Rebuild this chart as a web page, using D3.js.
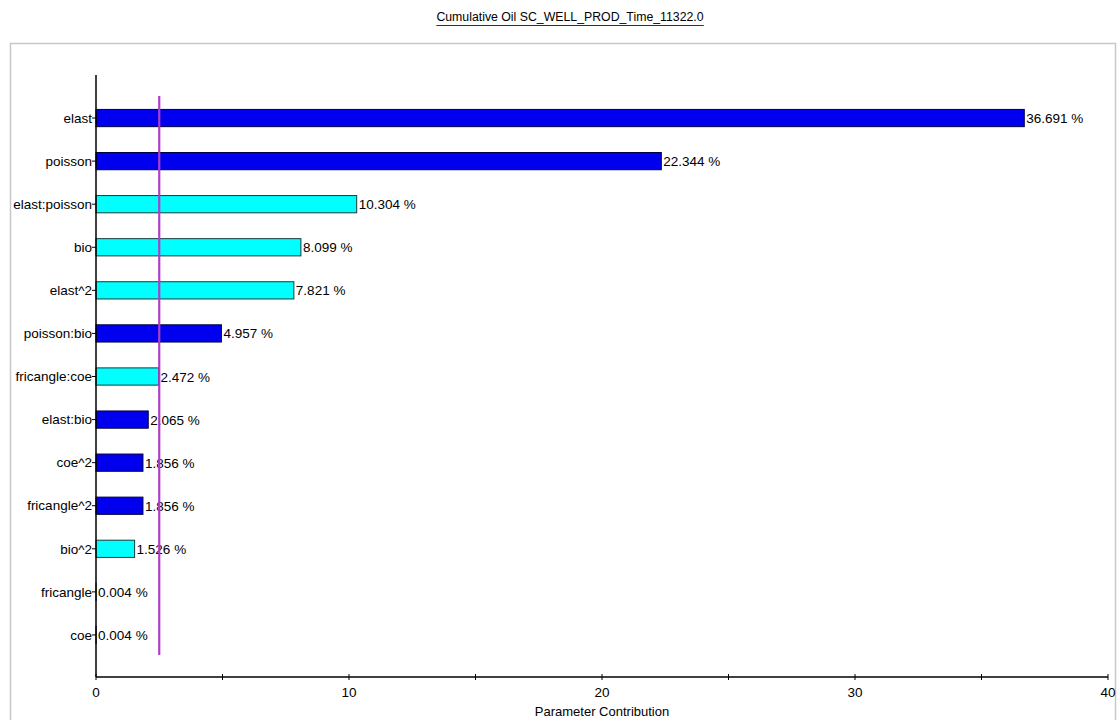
<!DOCTYPE html>
<html>
<head>
<meta charset="utf-8">
<script src="https://cdn.jsdelivr.net/npm/d3@7"></script>
<style>
  html, body { margin: 0; padding: 0; background: #fff; }
  svg { display: block; font-family: "Liberation Sans", Arial, sans-serif; }
</style>
</head>
<body>
<svg id="chart" width="1117" height="720"></svg>
<script>
// Parameter contributions (percent) to cumulative oil, sorted descending
const parameters = ["elast", "poisson", "elast:poisson", "bio", "elast^2", "poisson:bio",
  "fricangle:coe", "elast:bio", "coe^2", "fricangle^2", "bio^2", "fricangle", "coe"];
const contributions = [36.691, 22.344, 10.304, 8.099, 7.821, 4.957,
  2.472, 2.065, 1.856, 1.856, 1.526, 0.004, 0.004];
// Sign of each effect: true = positive (cyan), false = negative (blue)
const positiveEffect = [false, false, true, true, true, false,
  true, false, false, false, true, true, false];
const xTicks = [0, 5, 10, 15, 20, 25, 30, 35, 40];
const xTickLabels = [0, 10, 20, 30, 40];
const significanceLevel = 2.5;
const titleText = "Cumulative Oil SC_WELL_PROD_Time_11322.0";
const xAxisTitle = "Parameter Contribution";

const svg = d3.select("#chart");

// Plot frame
svg.append("rect")
  .attr("x", 10.5).attr("y", 43.5)
  .attr("width", 1105).attr("height", 700)
  .attr("fill", "none").attr("stroke", "#c8c8c8").attr("stroke-width", 1.5);

// Title, underlined
const title = svg.append("text")
  .attr("x", 570).attr("y", 21)
  .attr("text-anchor", "middle")
  .attr("font-size", 12.3)
  .attr("fill", "#000")
  .text(titleText);
const tb = title.node().getBBox();
svg.append("line")
  .attr("x1", tb.x).attr("x2", tb.x + tb.width)
  .attr("y1", 25.5).attr("y2", 25.5)
  .attr("stroke", "#333").attr("stroke-width", 1);

const x = d3.scaleLinear().domain([0, 40]).range([96, 1108]);
const y = d3.scaleBand().domain(parameters)
  .range([96.5, 656.5]).paddingInner(0.6).paddingOuter(0.3);

const axisY = 677;
const labelSize = 13.5;

// Bars
svg.append("g").selectAll("rect")
  .data(parameters)
  .join("rect")
  .attr("x", x(0))
  .attr("y", d => y(d))
  .attr("width", (d, i) => x(contributions[i]) - x(0))
  .attr("height", y.bandwidth())
  .attr("fill", (d, i) => positiveEffect[i] ? "#00ffff" : "#0000ee")
  .attr("stroke", (d, i) => positiveEffect[i] ? "#1a3a3a" : "#000044")
  .attr("stroke-width", 1);

// Value labels
svg.append("g").selectAll("text")
  .data(parameters)
  .join("text")
  .attr("x", (d, i) => x(contributions[i]) + 2)
  .attr("y", d => y(d) + y.bandwidth() / 2 + 5)
  .attr("font-size", labelSize)
  .attr("fill", "#000")
  .text((d, i) => contributions[i].toFixed(3) + " %");

// Y axis
const gy = svg.append("g").attr("transform", `translate(${x(0)},0)`);
gy.append("line")
  .attr("x1", 0).attr("x2", 0)
  .attr("y1", 75).attr("y2", axisY)
  .attr("stroke", "#000").attr("stroke-width", 1.5);
gy.selectAll(".tick")
  .data(parameters)
  .join("g")
  .attr("transform", d => `translate(0,${y(d) + y.bandwidth() / 2})`)
  .call(g => g.append("line").attr("x1", -4).attr("x2", 0).attr("stroke", "#000"))
  .call(g => g.append("text")
    .attr("x", -4).attr("dy", "0.35em")
    .attr("text-anchor", "end")
    .attr("font-size", labelSize)
    .attr("fill", "#000")
    .text(d => d));

// X axis
const gx = svg.append("g").attr("transform", `translate(0,${axisY})`);
gx.append("line")
  .attr("x1", x(0)).attr("x2", x(40))
  .attr("y1", 0).attr("y2", 0)
  .attr("stroke", "#000").attr("stroke-width", 1.5);
gx.selectAll(".tick")
  .data(xTicks)
  .join("line")
  .attr("x1", d => x(d)).attr("x2", d => x(d))
  .attr("y1", -3).attr("y2", 3)
  .attr("stroke", "#000");
gx.selectAll(".lbl")
  .data(xTickLabels)
  .join("text")
  .attr("x", d => x(d)).attr("y", 20)
  .attr("text-anchor", "middle")
  .attr("font-size", labelSize)
  .attr("fill", "#000")
  .text(d => d);

svg.append("text")
  .attr("x", (x(0) + x(40)) / 2).attr("y", 716)
  .attr("text-anchor", "middle")
  .attr("font-size", 13)
  .attr("fill", "#000")
  .text(xAxisTitle);

// Significance threshold line
svg.append("line")
  .attr("x1", x(significanceLevel)).attr("x2", x(significanceLevel))
  .attr("y1", 96).attr("y2", 655)
  .attr("stroke", "#b03cc8").attr("stroke-width", 2.2);
</script>
</body>
</html>
